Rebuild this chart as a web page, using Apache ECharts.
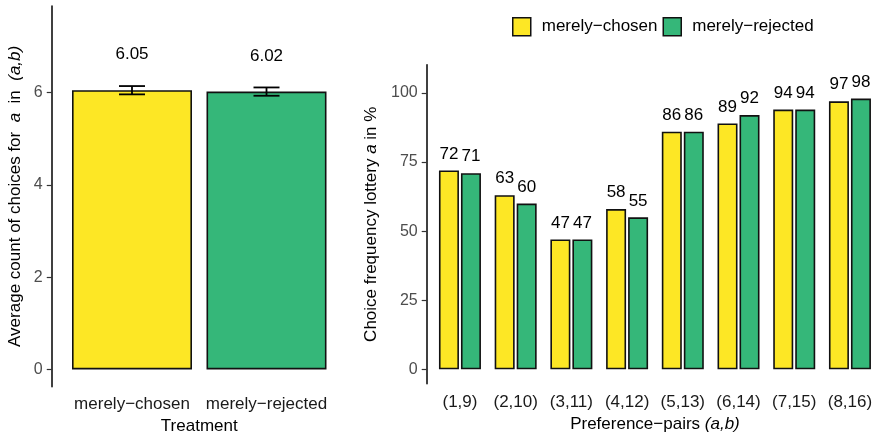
<!DOCTYPE html>
<html>
<head>
<meta charset="utf-8">
<script src="https://cdn.jsdelivr.net/npm/echarts@6/dist/echarts.min.js"></script>
<style>
html,body{margin:0;padding:0;background:#fff;}
#c{width:875px;height:432px;}
</style>
</head>
<body>
<div id="c"></div>
<script>
// ---- data ----
var treatments = ['merely\u2212chosen', 'merely\u2212rejected'];
var avgCount = [6.05, 6.02];
var avgLow = [5.96, 5.93];
var avgHigh = [6.14, 6.11];
var leftTicks = [0, 2, 4, 6];

var pairs = ['(1,9)', '(2,10)', '(3,11)', '(4,12)', '(5,13)', '(6,14)', '(7,15)', '(8,16)'];
var chosenPct = [72, 63, 47, 58, 86, 89, 94, 97];
var rejectedPct = [71, 60, 47, 55, 86, 92, 94, 98];
var rightTicks = [0, 25, 50, 75, 100];

var colors = ['#FDE725', '#35B779'];
// ---------------

var FONT = "'Liberation Sans', Arial, sans-serif";
var chart = echarts.init(document.getElementById('c'));

var axisLineStyle = {show: true, lineStyle: {color: '#000', width: 1.5}};
var tickStyle = {show: true, length: 5, lineStyle: {color: '#333', width: 1.2}};
var italicRich = {
  n: {fontFamily: FONT, fontSize: 17, color: '#000'},
  i: {fontFamily: FONT, fontSize: 17, color: '#000', fontStyle: 'italic'}
};

var option = {
  animation: false,
  textStyle: {fontFamily: FONT},
  legend: {
    left: 512, top: 17, padding: 0,
    itemWidth: 18, itemHeight: 18, itemGap: 5,
    icon: 'rect',
    data: ['merely\u2212chosen', 'merely\u2212rejected'],
    itemStyle: {borderColor: '#111', borderWidth: 1.5},
    textStyle: {fontFamily: FONT, fontSize: 17, color: '#000', padding: [0, 0, 0, 6]}
  },
  grid: [
    {left: 64.75, width: 269, top: 6, bottom: 45.3, containLabel: false, outerBoundsMode: 'none'},
    {left: 432.1, width: 445.7, top: 64.7, bottom: 48.2, containLabel: false, outerBoundsMode: 'none'}
  ],
  xAxis: [
    {
      type: 'category', gridIndex: 0, data: treatments,
      axisLine: {show: false}, axisTick: {show: false},
      axisLabel: {interval: 0, fontFamily: FONT, fontSize: 17, color: '#1a1a1a', margin: 9},
      name: 'Treatment', nameLocation: 'middle', nameGap: 27,
      nameTextStyle: {fontFamily: FONT, fontSize: 17, color: '#000'}
    },
    {
      type: 'category', gridIndex: 1, data: pairs,
      axisLine: {show: false}, axisTick: {show: false},
      axisLabel: {interval: 0, fontFamily: FONT, fontSize: 17, color: '#1a1a1a', margin: 10},
      name: '{n|Preference\u2212pairs }{i|(a,b)}', nameLocation: 'middle', nameGap: 28,
      nameTextStyle: {rich: italicRich}
    }
  ],
  yAxis: [
    {
      type: 'value', gridIndex: 0, min: -0.375, max: 7.875, offset: 13,
      splitLine: {show: false},
      axisLine: axisLineStyle,
      axisTick: Object.assign({customValues: leftTicks}, tickStyle),
      axisLabel: {customValues: leftTicks, fontFamily: FONT, fontSize: 16, color: '#4d4d4d', margin: 9},
      name: '{n|Average count of choices for }{i| a }{n| in }{i| (a,b)}',
      nameLocation: 'middle', nameGap: 28, nameRotate: 90,
      nameTextStyle: {rich: italicRich}
    },
    {
      type: 'value', gridIndex: 1, min: -5.25, max: 110.25, offset: 5.4,
      splitLine: {show: false},
      axisLine: axisLineStyle,
      axisTick: Object.assign({customValues: rightTicks}, tickStyle),
      axisLabel: {customValues: rightTicks, fontFamily: FONT, fontSize: 16, color: '#4d4d4d', margin: 9},
      name: '{n|Choice frequency lottery }{i|a}{n| in %}',
      nameLocation: 'middle', nameGap: 45, nameRotate: 90,
      nameTextStyle: {rich: italicRich}
    }
  ],
  series: [
    {
      name: 'avg', type: 'bar', xAxisIndex: 0, yAxisIndex: 0,
      barWidth: 120,
      data: avgCount.map(function (v, i) {
        return {value: v, itemStyle: {color: colors[i]}};
      }),
      itemStyle: {borderColor: '#111', borderWidth: 1.6},
      label: {
        show: true, position: 'top', distance: 27,
        fontFamily: FONT, fontSize: 17, color: '#000',
        formatter: function (p) { return p.value.toFixed(2); }
      }
    },
    {
      name: 'err', type: 'custom', xAxisIndex: 0, yAxisIndex: 0,
      data: avgLow.map(function (lo, i) { return [i, lo, avgHigh[i]]; }),
      renderItem: function (params, api) {
        var lo = api.coord([api.value(0), api.value(1)]);
        var hi = api.coord([api.value(0), api.value(2)]);
        var hw = 13;
        var st = {stroke: '#000', lineWidth: 1.8};
        return {
          type: 'group',
          children: [
            {type: 'line', shape: {x1: lo[0], y1: lo[1], x2: hi[0], y2: hi[1]}, style: st},
            {type: 'line', shape: {x1: lo[0] - hw, y1: lo[1], x2: lo[0] + hw, y2: lo[1]}, style: st},
            {type: 'line', shape: {x1: hi[0] - hw, y1: hi[1], x2: hi[0] + hw, y2: hi[1]}, style: st}
          ]
        };
      },
      z: 5
    },
    {
      name: 'merely\u2212chosen', type: 'bar', xAxisIndex: 1, yAxisIndex: 1,
      barWidth: 20, barGap: '10%',
      data: chosenPct,
      itemStyle: {color: colors[0], borderColor: '#111', borderWidth: 1.6},
      label: {show: true, position: 'top', distance: 8, fontFamily: FONT, fontSize: 17, color: '#000'}
    },
    {
      name: 'merely\u2212rejected', type: 'bar', xAxisIndex: 1, yAxisIndex: 1,
      barWidth: 20, barGap: '10%',
      data: rejectedPct,
      itemStyle: {color: colors[1], borderColor: '#111', borderWidth: 1.6},
      label: {show: true, position: 'top', distance: 8, fontFamily: FONT, fontSize: 17, color: '#000'}
    }
  ]
};
chart.setOption(option);
</script>
</body>
</html>
